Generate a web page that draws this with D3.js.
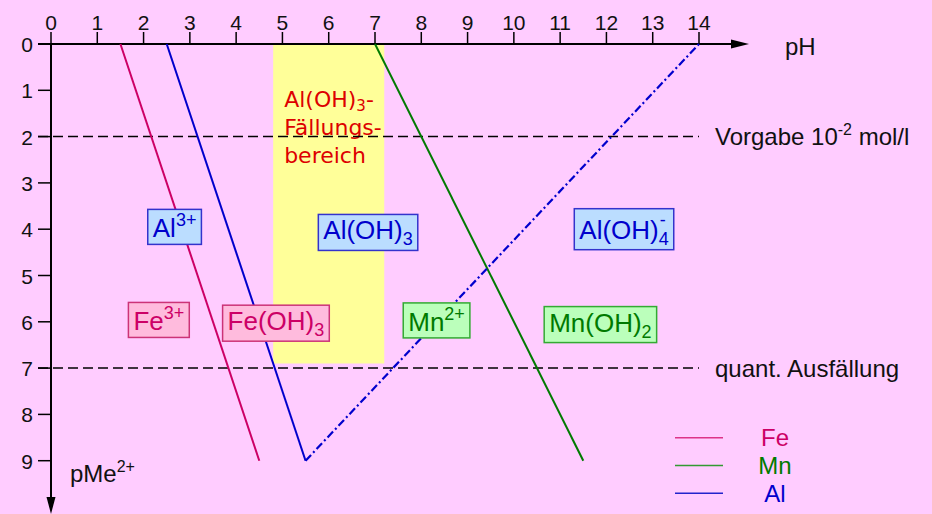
<!DOCTYPE html>
<html>
<head>
<meta charset="utf-8">
<script src="https://cdn.jsdelivr.net/npm/d3@7"></script>
<style>
  html, body { margin: 0; padding: 0; background: #ffccff; }
  svg { display: block; }
  text { font-family: "Liberation Sans", Arial, sans-serif; }
</style>
</head>
<body>
<svg id="chart" width="932" height="514"></svg>
<script>
// pH axis ticks and pMe axis ticks
const phTicks = d3.range(0, 15);
const pMeTicks = d3.range(0, 10);

// Solubility lines: [pH, pMe] end points
const feLine = [[1.5, 0], [4.5, 9]];
const mnLine = [[7, 0], [11.5, 9]];
const alAcidLine = [[2.5, 0], [5.5, 9]];
const alBaseLine = [[5.5, 9], [14, 0]];

// Al(OH)3 precipitation window: pH range and pMe range
const precipPH = [4.8, 7.2];
const precipPMe = [0, 6.9];

// Horizontal reference levels
const refLevels = [2, 7];
const refNames = ["Vorgabe 10", "quant. Ausfällung"];

// Species labels: base text, subscript, superscript, position (pH, pMe), element
const speciesNames = ["Al", "Al(OH)", "Al(OH)", "Fe", "Fe(OH)", "Mn", "Mn(OH)"];
const speciesSub = ["", "3", "4", "", "3", "", "2"];
const speciesSup = ["3+", "", "-", "3+", "", "2+", ""];
const speciesPH = [2.67, 6.85, 12.38, 2.33, 4.86, 8.33, 11.87];
const speciesPMe = [3.95, 4.07, 4.0, 5.96, 6.03, 5.97, 6.06];
const speciesElem = ["Al", "Al", "Al", "Fe", "Fe", "Mn", "Mn"];

// Legend entries
const legendNames = ["Fe", "Mn", "Al"];

const colors = { Fe: "#cc0066", Mn: "#007a00", Al: "#0000cc" };
const boxFill = { Fe: "#ffbbdd", Mn: "#bbffbb", Al: "#bbddff" };
const boxStroke = { Fe: "#cc3377", Mn: "#33aa33", Al: "#3333cc" };
const legendColors = { Fe: "#dd3388", Mn: "#339933", Al: "#2222cc" };

const svg = d3.select("#chart");
const x = d3.scaleLinear().domain([0, 14]).range([51, 699]);
const y = d3.scaleLinear().domain([0, 9]).range([44, 460.7]);

// Precipitation window
svg.append("rect")
  .attr("x", x(precipPH[0]))
  .attr("y", y(precipPMe[0]))
  .attr("width", x(precipPH[1]) - x(precipPH[0]))
  .attr("height", y(precipPMe[1]) - y(precipPMe[0]))
  .attr("fill", "#ffff99");

// Red caption in the window
const cap = svg.append("text")
  .attr("fill", "#dd0000")
  .style("font-family", "'Comic Sans MS', 'DejaVu Sans', sans-serif")
  .style("font-size", "22px");
const capX = x(precipPH[0]) + 11;
const l1 = cap.append("tspan").attr("x", capX).attr("y", 107);
l1.append("tspan").text("Al(OH)");
l1.append("tspan").attr("dy", 4).style("font-size", "15px").text("3");
l1.append("tspan").attr("dy", -4).text("-");
cap.append("tspan").attr("x", capX).attr("y", 135).text("Fällungs-");
cap.append("tspan").attr("x", capX).attr("y", 163).text("bereich");

// Reference dashed lines
svg.selectAll("line.ref").data(refLevels).join("line")
  .attr("class", "ref")
  .attr("x1", 38).attr("x2", x(14))
  .attr("y1", d => y(d)).attr("y2", d => y(d))
  .attr("stroke", "#000").attr("stroke-width", 1.5)
  .attr("stroke-dasharray", "10,5");

const t1 = svg.append("text").attr("x", 715).attr("y", y(refLevels[0]) + 8.5)
  .style("font-size", "24px").attr("fill", "#111");
t1.append("tspan").text(refNames[0]);
t1.append("tspan").attr("dy", -10).style("font-size", "16px").text("-2");
t1.append("tspan").attr("dy", 10).text(" mol/l");

svg.append("text").attr("x", 715).attr("y", y(refLevels[1]) + 8.5)
  .style("font-size", "24px").attr("fill", "#111").text(refNames[1]);

// Axes
const axisG = svg.append("g");
axisG.append("line").attr("x1", 38).attr("x2", 735)
  .attr("y1", y(0)).attr("y2", y(0)).attr("stroke", "#000").attr("stroke-width", 2);
axisG.append("path")
  .attr("d", `M749,${y(0)} L731,${y(0) - 4.5} L731,${y(0) + 4.5} Z`).attr("fill", "#000");
axisG.append("line").attr("x1", x(0)).attr("x2", x(0))
  .attr("y1", y(0)).attr("y2", 500).attr("stroke", "#000").attr("stroke-width", 2);
axisG.append("path")
  .attr("d", `M${x(0)},514 L${x(0) - 4.5},497 L${x(0) + 4.5},497 Z`).attr("fill", "#000");

axisG.selectAll("line.xt").data(phTicks).join("line").attr("class", "xt")
  .attr("x1", d => x(d)).attr("x2", d => x(d))
  .attr("y1", y(0) - 12).attr("y2", y(0))
  .attr("stroke", "#000").attr("stroke-width", 1.5);
axisG.selectAll("text.xl").data(phTicks).join("text").attr("class", "xl")
  .attr("x", d => x(d)).attr("y", 29.5).attr("text-anchor", "middle")
  .style("font-size", "21px").attr("fill", "#111").text(d => d);

axisG.selectAll("line.yt").data(pMeTicks).join("line").attr("class", "yt")
  .attr("x1", 38).attr("x2", x(0))
  .attr("y1", d => y(d)).attr("y2", d => y(d))
  .attr("stroke", "#000").attr("stroke-width", 1.5);
axisG.selectAll("text.yl").data(pMeTicks).join("text").attr("class", "yl")
  .attr("x", 33).attr("y", d => y(d) + 8).attr("text-anchor", "end")
  .style("font-size", "21px").attr("fill", "#111").text(d => d);

svg.append("text").attr("x", 785).attr("y", 55)
  .style("font-size", "24px").attr("fill", "#111").text("pH");
const pm = svg.append("text").attr("x", 70).attr("y", 482)
  .style("font-size", "24px").attr("fill", "#111");
pm.append("tspan").text("pMe");
pm.append("tspan").attr("dy", -10).style("font-size", "16px").text("2+");

// Solubility lines
const lineGen = d3.line().x(d => x(d[0])).y(d => y(d[1]));
svg.append("path").datum(feLine).attr("d", lineGen)
  .attr("stroke", colors.Fe).attr("stroke-width", 2).attr("fill", "none");
svg.append("path").datum(mnLine).attr("d", lineGen)
  .attr("stroke", colors.Mn).attr("stroke-width", 2).attr("fill", "none");
svg.append("path").datum(alAcidLine).attr("d", lineGen)
  .attr("stroke", colors.Al).attr("stroke-width", 2).attr("fill", "none");
svg.append("path").datum(alBaseLine).attr("d", lineGen)
  .attr("stroke", colors.Al).attr("stroke-width", 2.2).attr("fill", "none")
  .attr("stroke-dasharray", "8,3,2,3");

// Species boxes
speciesNames.forEach((name, i) => {
  const el = speciesElem[i];
  const g = svg.append("g");
  const t = g.append("text")
    .attr("fill", colors[el])
    .style("font-size", "26px");
  t.append("tspan").text(name);
  if (speciesSub[i]) t.append("tspan").attr("dy", 6).style("font-size", "18px").text(speciesSub[i]);
  if (speciesSup[i]) {
    if (speciesSub[i]) {
      t.append("tspan").attr("dx", -9).attr("dy", -19).style("font-size", "18px").text(speciesSup[i]);
    } else {
      t.append("tspan").attr("dy", -11).style("font-size", "18px").text(speciesSup[i]);
    }
  }
  const cx = x(speciesPH[i]), cy = y(speciesPMe[i]);
  t.attr("x", 0).attr("y", 0);
  const bb = t.node().getBBox();
  const padX = 5, padY = 4;
  const w = bb.width + 2 * padX, h = bb.height + 2 * padY - 6;
  const tx = cx - bb.width / 2 - bb.x;
  const ty = cy - (bb.y + bb.height / 2);
  t.attr("transform", `translate(${tx},${ty})`);
  g.insert("rect", "text")
    .attr("x", cx - w / 2).attr("y", cy - h / 2)
    .attr("width", w).attr("height", h)
    .attr("fill", boxFill[el]).attr("stroke", boxStroke[el]).attr("stroke-width", 1.5);
});

// Legend
const lg = svg.append("g");
legendNames.forEach((n, i) => {
  const ly = 437.7 + i * 27.8;
  lg.append("line").attr("x1", 675).attr("x2", 723).attr("y1", ly).attr("y2", ly)
    .attr("stroke", legendColors[n]).attr("stroke-width", 1.5);
  lg.append("text").attr("x", 775).attr("y", ly + 8.5).attr("text-anchor", "middle")
    .style("font-size", "24px").attr("fill", colors[n]).text(n);
});
</script>
</body>
</html>
